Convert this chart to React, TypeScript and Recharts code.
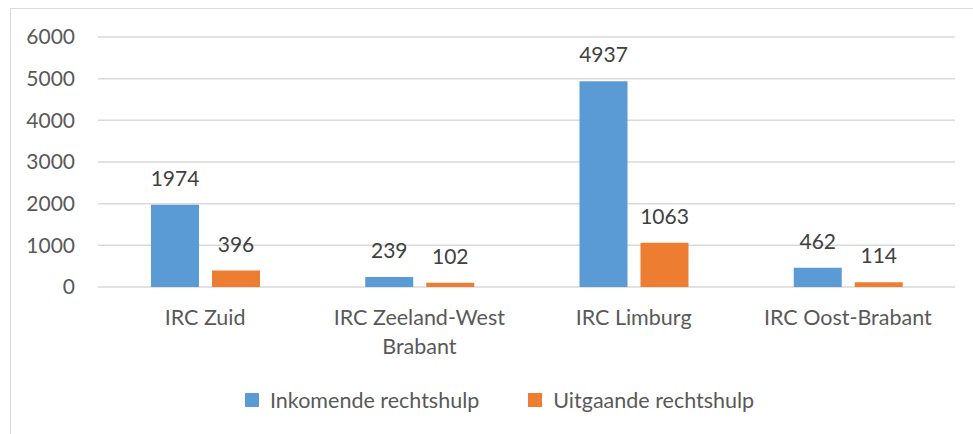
import { BarChart, Bar, XAxis, YAxis, CartesianGrid, Legend, LabelList } from "recharts";

const regions = ["IRC Zuid", "IRC Zeeland-West Brabant", "IRC Limburg", "IRC Oost-Brabant"];
const regionLines = [["IRC Zuid"], ["IRC Zeeland-West", "Brabant"], ["IRC Limburg"], ["IRC Oost-Brabant"]];
const inkomend = [1974, 239, 4937, 462];
const uitgaand = [396, 102, 1063, 114];
const yTicks = [0, 1000, 2000, 3000, 4000, 5000, 6000];

const seriesNames = ["Inkomende rechtshulp", "Uitgaande rechtshulp"];
const colors = ["#5B9BD5", "#ED7D31"];

const data = regions.map((name, i) => ({
	name,
	inkomend: inkomend[i],
	uitgaand: uitgaand[i],
}));

const FONT = "Lato, 'Open Sans', sans-serif";

function CategoryTick(props: any) {
	const { x, y, index } = props;
	const lines = regionLines[index] || [props.payload.value];
	return (
		<text x={x} y={y} textAnchor="middle" fill="#595959" fontSize={21.5} fontFamily={FONT}>
			{lines.map((line: string, i: number) => (
				<tspan key={i} x={x} dy={i === 0 ? 38 : 29}>
					{line}
				</tspan>
			))}
		</text>
	);
}

function LegendContent() {
	return (
		<div style={{ display: "flex", gap: 49, fontFamily: FONT, fontSize: 21.5, color: "#595959" }}>
			{seriesNames.map((s, i) => (
				<div key={s} style={{ display: "flex", alignItems: "center" }}>
					<span style={{ width: 14, height: 14, background: colors[i], display: "inline-block", marginRight: 11 }} />
					<span style={{ lineHeight: "24px" }}>{s}</span>
				</div>
			))}
		</div>
	);
}

export default function App() {
	return (
		<div style={{ position: "absolute", left: 0, top: 0, width: 973, height: 434, overflow: "hidden", background: "#fff" }}>
			<div
				style={{
					position: "absolute",
					left: 10,
					top: 8,
					width: 1000,
					height: 500,
					borderLeft: "1px solid #d9d9d9",
					borderTop: "1px solid #d9d9d9",
				}}
			/>
			<BarChart
				width={973}
				height={434}
				data={data}
				margin={{ top: 37, right: 18, bottom: 0, left: 0 }}
				barSize={48}
				barGap={13}
			>
				<CartesianGrid vertical={false} stroke="#d9d9d9" strokeWidth={1.5} />
				<XAxis
					dataKey="name"
					height={147}
					axisLine={false}
					tickLine={false}
					tickSize={0}
					tickMargin={0}
					interval={0}
					tick={<CategoryTick />}
				/>
				<YAxis
					width={98}
					domain={[0, 6000]}
					ticks={yTicks}
					axisLine={false}
					tickLine={false}
					tickSize={0}
					tickMargin={23}
					tick={{ fill: "#595959", fontSize: 21, fontFamily: FONT }}
				/>
				<Legend
					layout="horizontal"
					verticalAlign="middle"
					content={<LegendContent />}
					wrapperStyle={{ top: 388, left: 245, width: "auto" }}
				/>
				<Bar dataKey="inkomend" name={seriesNames[0]} fill={colors[0]} isAnimationActive={false}>
					<LabelList dataKey="inkomend" position="top" offset={19} fill="#404040" fontSize={21} fontFamily={FONT} />
				</Bar>
				<Bar dataKey="uitgaand" name={seriesNames[1]} fill={colors[1]} isAnimationActive={false}>
					<LabelList dataKey="uitgaand" position="top" offset={19} fill="#404040" fontSize={21} fontFamily={FONT} />
				</Bar>
			</BarChart>
		</div>
	);
}
